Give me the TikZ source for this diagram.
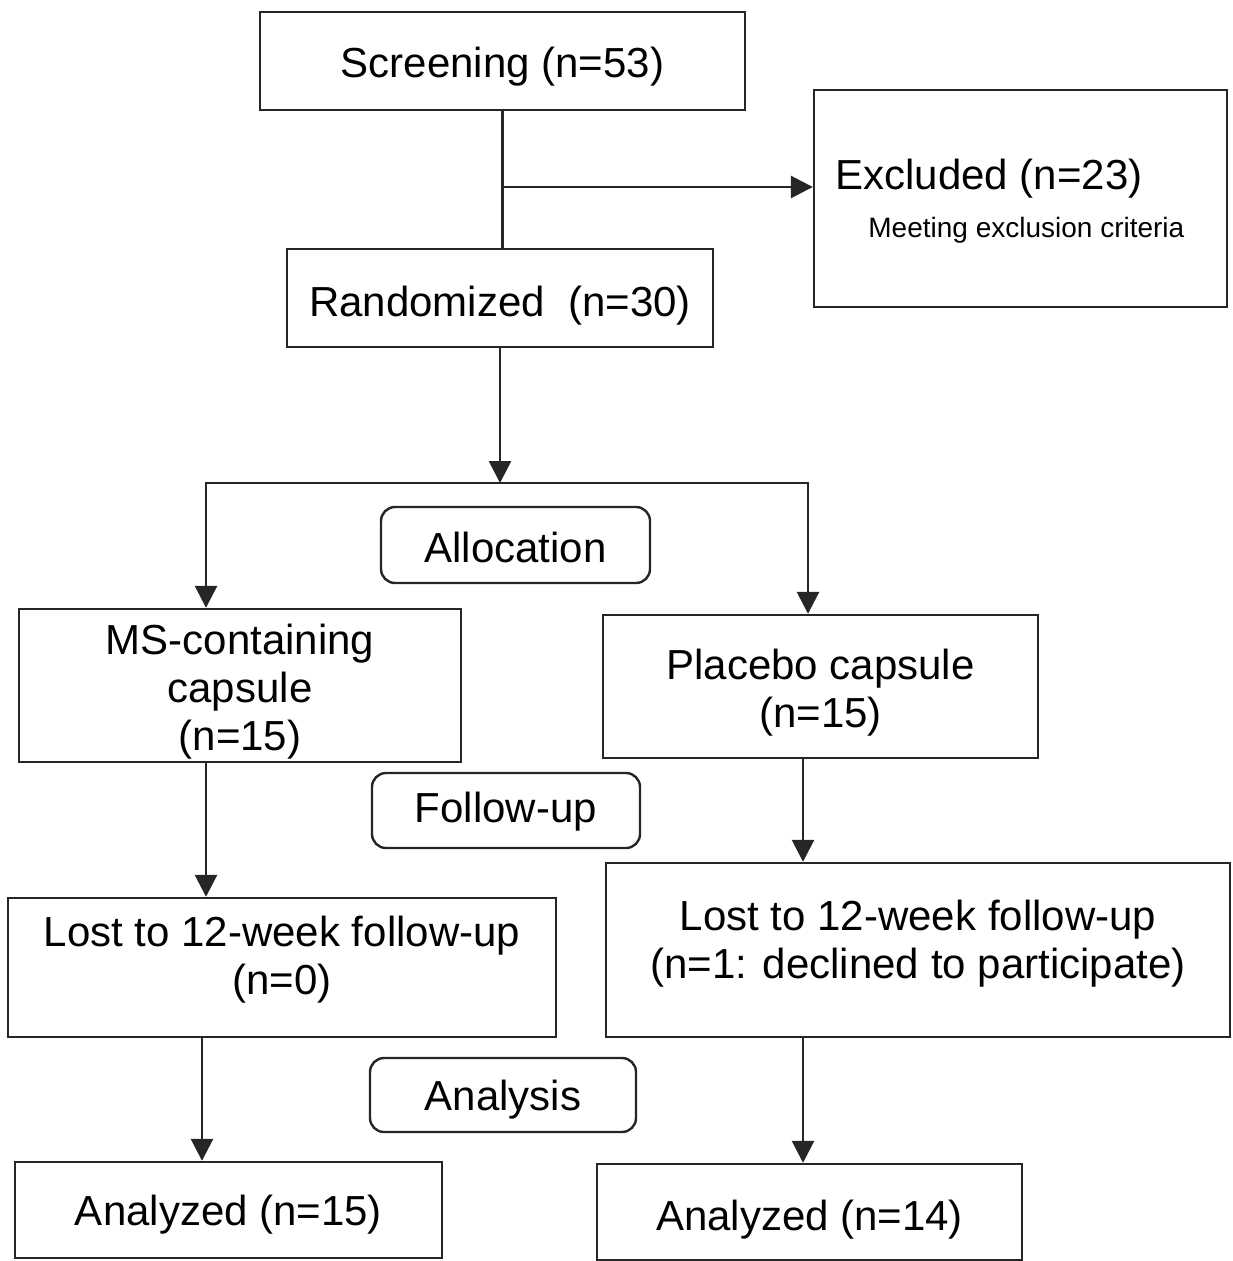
\documentclass[tikz,border=0pt]{standalone}
\usepackage{fontspec}
\setmainfont{Liberation Sans}
\usepackage{tikz}
\usetikzlibrary{positioning,calc,arrows.meta}

\newcommand{\boxfont}{\fontsize{21}{24}\selectfont}
\newcommand{\notefont}{\fontsize{14}{17}\selectfont}

\begin{document}
\begin{tikzpicture}[
    x=0.5pt, y=-0.5pt,
    box/.style={rectangle, draw=black!85, line width=1.2pt, inner sep=0pt, align=center, font=\boxfont},
    stage/.style={box, rounded corners=7pt},
    lift/.style={text height=#1, text depth=0pt},
    line/.style={draw=black!85, line width=1.4pt, line cap=rect},
    arrow/.style={line, -{Triangle[width=11pt,length=11pt]}}
]
    \useasboundingbox (0,0) rectangle (1232,1261);

    % Enrolment
    \node[box, lift=17pt, minimum width=242.5pt, minimum height=49pt] (screen) at (502.5,61) {Screening (n=53)};
    \node[box, minimum width=206.5pt, minimum height=108.5pt] (excl) at (1020.5,198.5) {};
    \node[anchor=base west, font=\boxfont, inner sep=0pt] (excltitle) at (835,190) {Excluded (n=23)};
    \node[anchor=base west, font=\notefont, inner sep=0pt] (exclnote) at (868,238) {Meeting exclusion criteria};
    \node[box, lift=19pt, minimum width=213pt, minimum height=49pt] (rand) at (500,298) {Randomized\ \ (n=30)};

    \coordinate (split) at (502,187);
    \draw[line] (screen.south) -- (screen.south |- rand.north);
    \draw[arrow] (split) -- (split -| excl.west);

    % Allocation
    \node[stage, lift=17.5pt, minimum width=134.5pt, minimum height=38pt] (alloc) at (515.5,545) {Allocation};
    \node[box, lift=64.5pt, minimum width=221pt, minimum height=76.5pt] (ms) at (240,685.5) {MS-containing\\capsule\\(n=15)};
    \node[box, lift=40.5pt, minimum width=217.5pt, minimum height=71.5pt] (placebo) at (820.5,686.5) {Placebo capsule\\(n=15)};

    \coordinate (splitL) at (206,483);
    \coordinate (splitR) at (808,483);
    \draw[arrow] (rand.south) -- (rand.south |- splitL);
    \draw[arrow] (splitR) -- (splitL) -- (splitL |- ms.north);
    \draw[arrow] (splitR) -- (splitR |- placebo.north);

    % Follow-up
    \node[stage, lift=11.5pt, minimum width=134pt, minimum height=37.5pt] (follow) at (506,810.5) {Follow-up};
    \node[box, lift=26.5pt, minimum width=274pt, minimum height=69.5pt] (lostL) at (282,967.5) {Lost to 12-week follow-up\\(n=0)};
    \node[box, lift=28pt, minimum width=312pt, minimum height=87pt] (lostR) at (918,950) {Lost to 12-week follow-up\\(n=1: declined to participate)};

    \coordinate (colL) at (202,1100);
    \coordinate (colR) at (803,1100);
    \draw[arrow] (ms.south -| splitL) -- (lostL.north -| splitL);
    \draw[arrow] (placebo.south -| colR) -- (lostR.north -| colR);

    % Analysis
    \node[stage, lift=15.5pt, minimum width=133pt, minimum height=37pt] (analysis) at (503,1095) {Analysis};
    \node[box, lift=15pt, minimum width=213.5pt, minimum height=48pt] (anaL) at (228.5,1210) {Analyzed (n=15)};
    \node[box, lift=18pt, minimum width=212.5pt, minimum height=48pt] (anaR) at (809.5,1212) {Analyzed (n=14)};

    \draw[arrow] (lostL.south -| colL) -- (anaL.north -| colL);
    \draw[arrow] (lostR.south -| colR) -- (anaR.north -| colR);
\end{tikzpicture}
\end{document}
